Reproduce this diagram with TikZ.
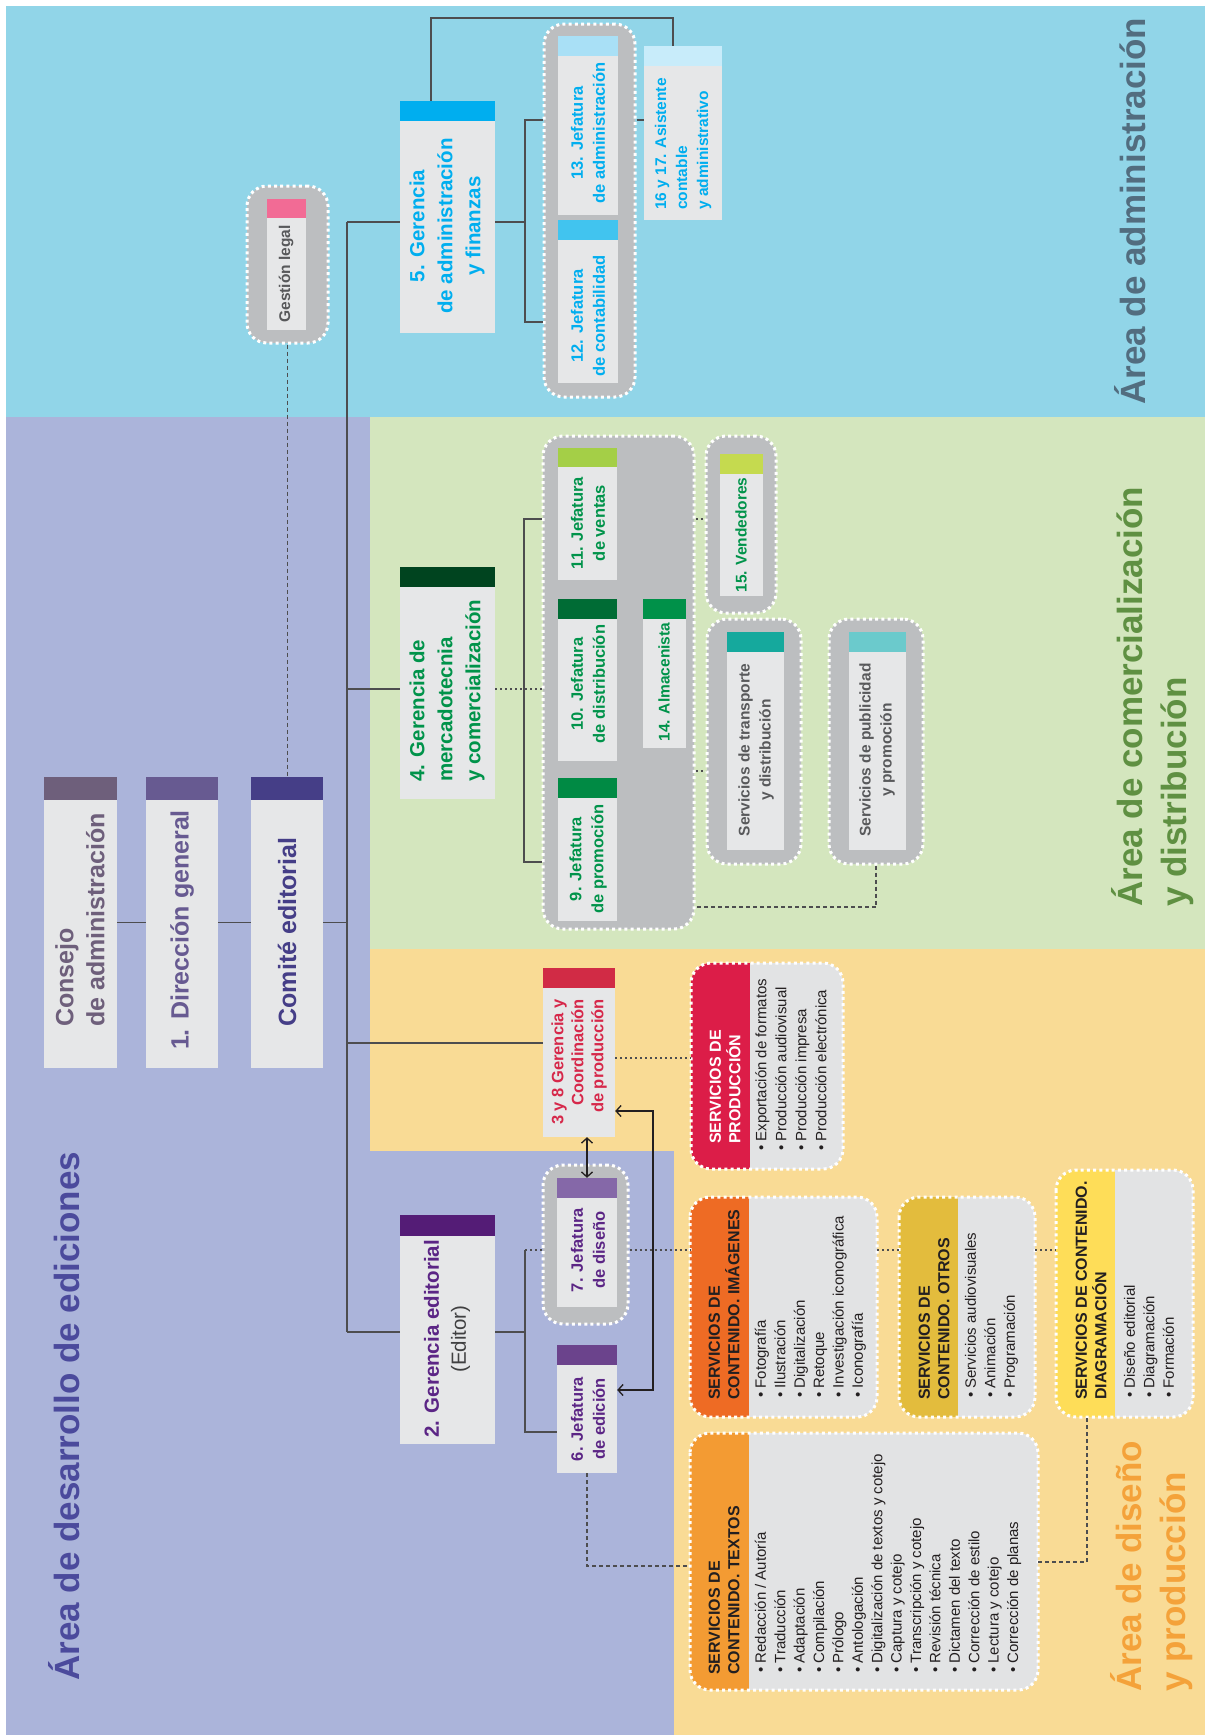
\documentclass[tikz,border=0pt]{standalone}
\usepackage{fontspec}
\setmainfont{Liberation Sans}
\usetikzlibrary{fit,arrows.meta}

% area backgrounds
\definecolor{bgblue}{HTML}{91D5E8}
\definecolor{bgpurple}{HTML}{ABB4DA}
\definecolor{bggreen}{HTML}{D4E6BE}
\definecolor{bgyellow}{HTML}{F9DB95}
% boxes and lines
\definecolor{boxbody}{HTML}{E6E7E8}
\definecolor{groupgray}{HTML}{BCBEC0}
\definecolor{itemgray}{HTML}{E2E3E4}
\definecolor{linegray}{HTML}{4D4D4F}
\definecolor{arrowdark}{HTML}{231F20}
\definecolor{textgray}{HTML}{58595B}
\definecolor{textdark}{HTML}{231F20}
\definecolor{editorgray}{HTML}{404041}
% unit colours
\definecolor{consejo}{HTML}{6E5F7B}
\definecolor{direccion}{HTML}{675A91}
\definecolor{comite}{HTML}{453E87}
\definecolor{cyan}{HTML}{00AEEF}
\definecolor{cyanA}{HTML}{A9E0F6}
\definecolor{cyanB}{HTML}{41C4EF}
\definecolor{cyanC}{HTML}{C8ECFA}
\definecolor{pink}{HTML}{F26B95}
\definecolor{darkgreen}{HTML}{00441F}
\definecolor{greenA}{HTML}{006C35}
\definecolor{greenB}{HTML}{008A44}
\definecolor{greenC}{HTML}{009149}
\definecolor{greenD}{HTML}{A4CF47}
\definecolor{lime}{HTML}{C5DA4F}
\definecolor{teal}{HTML}{15A99D}
\definecolor{tealB}{HTML}{6BCACC}
\definecolor{greentext}{HTML}{00934A}
\definecolor{redhead}{HTML}{D12B45}
\definecolor{redtext}{HTML}{D6284A}
\definecolor{prodred}{HTML}{DC1D48}
\definecolor{purplehead}{HTML}{541C76}
\definecolor{purpletext}{HTML}{5B2585}
\definecolor{purpleA}{HTML}{8568A8}
\definecolor{purpleB}{HTML}{6B438C}
\definecolor{imgorange}{HTML}{EE6B24}
\definecolor{mustard}{HTML}{E3BC3D}
\definecolor{diagyellow}{HTML}{FEDD58}
\definecolor{txtorange}{HTML}{F39B33}
\definecolor{admtitle}{HTML}{526D7F}
\definecolor{comtitle}{HTML}{5F9042}
\definecolor{distitle}{HTML}{F4A23A}
\definecolor{edititle}{HTML}{4B4A9C}

% plain unit box with a coloured header strip
\newcommand\orgbox[7]{%
  \node[orgbody, fit={(#2,#3) (#4,#5)}] (#1) {};
  \fill[#6] (#1.north west) rectangle ([yshift=-#7pt]#1.north east);}
% grey rounded group with white dotted border
\newcommand\grpbox[5]{%
  \node[grpbody, fit={(#2,#3) (#4,#5)}] (#1) {};}
% service card: coloured title column and grey item column
\newcommand\svcbox[7]{%
  \node[inner sep=0pt, fit={(#2,#3) (#4,#5)}] (#1) {};
  \begin{scope}
    \clip[rounded corners=20pt] (#2,#3) rectangle (#4,#5);
    \fill[itemgray] (#2,#3) rectangle (#4,#5);
    \fill[#6] (#2,#3) rectangle (#7,#5);
  \end{scope}
  \draw[dotborder, rounded corners=20pt] (#2,#3) rectangle (#4,#5);}

\begin{document}
\begin{tikzpicture}[x=1pt,y=-1pt,
  orgbody/.style={inner sep=0pt, fill=boxbody},
  dotborder/.style={draw=white, line width=3pt, dash pattern=on 3pt off 3.2pt},
  grpbody/.style={inner sep=0pt, fill=groupgray, rounded corners=20pt, dotborder},
  conn/.style={draw=linegray, line width=1.3pt},
  dotline/.style={draw=linegray, line width=1.3pt, dash pattern=on 2pt off 3pt},
  dashline/.style={draw=linegray, line width=1.1pt, dash pattern=on 4pt off 3pt},
  arrowline/.style={draw=arrowdark, line width=1.3pt,
    arrows={Straight Barb[length=5pt,width=11pt]-Straight Barb[length=5pt,width=11pt]}},
  lbl/.style={rotate=90, inner sep=0pt},
  topfont/.style={font=\fontsize{25}{31}\selectfont\bfseries},
  gerfont/.style={font=\fontsize{20.5}{28}\selectfont\bfseries},
  jefont/.style={font=\fontsize{16.5}{22}\selectfont\bfseries},
  smallfont/.style={font=\fontsize{15.5}{21}\selectfont\bfseries},
  svctitle/.style={font=\fontsize{16}{19.5}\selectfont\bfseries, align=left, anchor=west},
  svcitems/.style={font=\fontsize{15}{19.4}\selectfont, text=textdark, align=left, anchor=west},
  areafont/.style={font=\fontsize{35}{44}\selectfont\bfseries, align=left, anchor=west}]

\useasboundingbox (0,0) rectangle (1205,1735);
\fill[white] (0,0) rectangle (1205,1735);

% ---- area backgrounds ----
\fill[bgblue] (6,6) rectangle (1205,417);
\fill[bgpurple] (6,417) rectangle (370,1151);
\fill[bgpurple] (6,1151) rectangle (674,1735);
\fill[bggreen] (370,417) rectangle (1205,949);
\fill[bgyellow] (370,949) rectangle (1205,1151);
\fill[bgyellow] (674,1151) rectangle (1205,1735);

% ---- area titles ----
\node[lbl, areafont, text=admtitle] (tadm) at (1130,405) {Área de administración};
\node[lbl, areafont, text=comtitle] (tcom) at (1153,907) {Área de comercialización\\y distribución};
\node[lbl, areafont, text=distitle] (tdis) at (1152,1692) {Área de diseño\\y producción};
\node[lbl, areafont, text=edititle] (tedi) at (64,1681) {Área de desarrollo de ediciones};

% ---- top level ----
\orgbox{consejo}{44}{777}{117}{1068}{consejo}{23}
\orgbox{direccion}{146}{777}{218}{1068}{direccion}{23}
\orgbox{comite}{251}{777}{323}{1068}{comite}{23}
\node[lbl, topfont, text=consejo, align=left] (tconsejo) at (80,920) {Consejo\\de administración};
\node[lbl, topfont, text=direccion] (tdireccion) at (182,930) {1. Dirección general};
\node[lbl, topfont, text=comite] (tcomite) at (287,932) {Comité editorial};

% ---- administration ----
\grpbox{grpgl}{247}{186}{328}{343}
\orgbox{gl}{267}{199}{306}{330}{pink}{19}
\node[lbl, smallfont, text=textgray] (tgl) at (286,274) {Gestión legal};

\orgbox{g5}{400}{101}{495}{333}{cyan}{20}
\node[lbl, gerfont, text=cyan, align=center] (tg5) at (447,226) {5. Gerencia\\de administración\\y finanzas};

\coordinate (bk5t) at (525,120);
\coordinate (bk5b) at (525,322);
\coordinate (k1) at (431,18);
\coordinate (k2) at (673,18);

\grpbox{grp1213}{544}{24}{635}{397}
\orgbox{j13}{558}{36}{618}{215}{cyanA}{20}
\orgbox{j12}{558}{220}{618}{383}{cyanB}{20}
\node[lbl, jefont, text=cyan, align=center] (tj13) at (588,133) {13. Jefatura\\de administración};
\node[lbl, jefont, text=cyan, align=center] (tj12) at (588,316) {12. Jefatura\\de contabilidad};

\orgbox{a1617}{644}{46}{722}{220}{cyanC}{20}
\node[lbl, smallfont, text=cyan, align=left, anchor=west] (ta1617) at (683,210) {16 y 17. Asistente\\contable\\y administrativo};

% ---- commercialisation ----
\orgbox{g4}{400}{567}{495}{799}{darkgreen}{20}
\node[lbl, gerfont, text=greentext, align=left, anchor=west] (tg4) at (447,782) {4. Gerencia de\\mercadotecnia\\y comercialización};

\coordinate (bk4t) at (524,519);
\coordinate (bk4b) at (524,862);

\grpbox{grpcom}{543}{436}{694}{929}
\orgbox{j11}{558}{448}{617}{580}{greenD}{19}
\orgbox{j10}{558}{599}{617}{761}{greenA}{20}
\orgbox{j9}{558}{778}{617}{921}{greenB}{20}
\orgbox{a14}{643}{599}{686}{748}{greenC}{20}
\node[lbl, jefont, text=greentext, align=center] (tj11) at (588,523) {11. Jefatura\\de ventas};
\node[lbl, jefont, text=greentext, align=center] (tj10) at (588,684) {10. Jefatura\\de distribución};
\node[lbl, jefont, text=greentext, align=center] (tj9) at (588,859) {9. Jefatura\\de promoción};
\node[lbl, smallfont, text=greentext] (ta14) at (664,682) {14. Almacenista};

\grpbox{grp15}{706}{436}{776}{613}
\orgbox{v15}{720}{454}{763}{596}{lime}{20}
\node[lbl, smallfont, text=greentext] (tv15) at (741,535) {15. Vendedores};

\grpbox{grptr}{707}{619}{801}{864}
\orgbox{str}{727}{632}{784}{850}{teal}{20}
\node[lbl, smallfont, text=textgray, align=center] (tstr) at (756,750) {Servicios de transporte\\y distribución};

\grpbox{grppub}{829}{619}{923}{864}
\orgbox{spub}{849}{632}{906}{850}{tealB}{20}
\node[lbl, smallfont, text=textgray, align=center] (tspub) at (877,750) {Servicios de publicidad\\y promoción};

% ---- production ----
\orgbox{g38}{543}{968}{615}{1137}{redhead}{20}
\node[lbl, font=\fontsize{16.5}{20}\selectfont\bfseries, text=redtext, align=right, anchor=east] (tg38) at (579,999) {3 y 8 Gerencia y\\Coordinación\\de producción};

\svcbox{sprod}{691}{963}{843}{1169}{prodred}{750}
\node[lbl, svctitle, text=white] (tsprod) at (725,1144) {SERVICIOS DE\\PRODUCCIÓN};
\node[lbl, svcitems, font=\fontsize{15}{20}\selectfont] (isprod) at (791,1151) {• Exportación de formatos\\• Producción audiovisual\\• Producción impresa\\• Producción electrónica};

% ---- editorial development ----
\orgbox{g2}{400}{1215}{495}{1444}{purplehead}{21}
\node[lbl, font=\fontsize{20.5}{27}\selectfont, text=editorgray, align=center] (tg2) at (447,1339) {{\bfseries\color{purpletext}2. Gerencia editorial}\\(Editor)};

\coordinate (bk2t) at (525,1250);
\coordinate (bk2b) at (525,1432);

\grpbox{grp7}{543}{1165}{628}{1324}
\orgbox{j7}{557}{1178}{617}{1307}{purpleA}{20}
\orgbox{j6}{557}{1345}{617}{1473}{purpleB}{20}
\node[lbl, jefont, text=purpletext, align=center] (tj7) at (588,1250) {7. Jefatura\\de diseño};
\node[lbl, jefont, text=purpletext, align=center] (tj6) at (588,1419) {6. Jefatura\\de edición};

% ---- content services ----
\svcbox{simg}{690}{1197}{877}{1417}{imgorange}{749}
\node[lbl, svctitle, text=textdark] (tsimg) at (724,1400) {SERVICIOS DE\\CONTENIDO. IMÁGENES};
\node[lbl, svcitems] (isimg) at (810.5,1398) {• Fotografía\\• Ilustración\\• Digitalización\\• Retoque\\• Investigación iconográfica\\• Iconografía};

\svcbox{sotr}{899}{1197}{1035}{1417}{mustard}{958}
\node[lbl, svctitle, text=textdark] (tsotr) at (934,1400) {SERVICIOS DE\\CONTENIDO. OTROS};
\node[lbl, svcitems] (isotr) at (991.5,1398) {• Servicios audiovisuales\\• Animación\\• Programación};

\svcbox{sdiag}{1056}{1170}{1193}{1417}{diagyellow}{1115}
\node[lbl, svctitle, text=textdark] (tsdiag) at (1091,1400) {SERVICIOS DE CONTENIDO.\\DIAGRAMACIÓN};
\node[lbl, svcitems] (isdiag) at (1149,1398) {• Diseño editorial\\• Diagramación\\• Formación};

\svcbox{stxt}{690}{1433}{1038}{1690}{txtorange}{749}
\node[lbl, svctitle, text=textdark] (tstxt) at (724,1675) {SERVICIOS DE\\CONTENIDO. TEXTOS};
\node[lbl, svcitems] (istxt) at (888,1673) {• Redacción / Autoría\\• Traducción\\• Adaptación\\• Compilación\\• Prólogo\\• Antologación\\• Digitalización de textos y cotejo\\• Captura y cotejo\\• Transcripción y cotejo\\• Revisión técnica\\• Dictamen del texto\\• Corrección de estilo\\• Lectura y cotejo\\• Corrección de planas};

% ---- connectors ----
\coordinate (t5) at (347,222);
\coordinate (t4) at (347,689);
\coordinate (t38) at (347,1043);
\coordinate (t2) at (347,1332);

\draw[conn] (consejo.east) -- (direccion.west);
\draw[conn] (direccion.east) -- (comite.west);
\draw[conn] (comite.east) -- (comite.east -| t5);
\draw[conn] (t5) -- (t2);
\draw[conn] (t5) -- (t5 -| g5.west);
\draw[conn] (t4) -- (t4 -| g4.west);
\draw[conn] (t38) -- (t38 -| g38.west);
\draw[conn] (t2) -- (t2 -| g2.west);
\draw[dashline] (grpgl.south) -- (grpgl.south |- comite.north);

% administration
\draw[conn] (g5.east |- t5) -- (t5 -| bk5t);
\draw[conn] (bk5t -| grp1213.west) -- (bk5t) -- (bk5b) -- (bk5b -| grp1213.west);
\draw[conn] (bk5t -| grp1213.east) -- (bk5t -| a1617.west);
\draw[conn] (k1 |- g5.north) -- (k1) -- (k2) -- (k2 |- a1617.north);

% commercialisation
\draw[dotline] (g4.east |- t4) -- (t4 -| grpcom.west);
\draw[conn] (bk4t -| grpcom.west) -- (bk4t) -- (bk4b) -- (bk4b -| grpcom.west);
\coordinate (c15) at (700,519);
\coordinate (ctr) at (700,771);
\draw[dotline] (c15 -| grpcom.east) -- (c15 -| grp15.west);
\draw[dotline] (ctr -| grpcom.east) -- (ctr -| grptr.west);
\coordinate (d3) at (877,907);
\draw[dashline] (grppub.south) -- (grppub.south |- d3) -- (d3 -| grpcom.east);

% production and editorial
\coordinate (p1) at (650,1058);
\draw[dotline] (p1 -| g38.east) -- (p1 -| sprod.west);
\coordinate (r1) at (653,1111);
\coordinate (r2) at (653,1390);
\draw[arrowline] (r1 -| g38.east) -- (r1) -- (r2) -- (r2 -| j6.east);
\draw[arrowline] (j7.north |- g38.south) -- (j7.north);

\draw[conn] (g2.east |- t2) -- (t2 -| bk2t);
\draw[conn] (bk2t) -- (bk2b) -- (bk2b -| j6.west);
\draw[dotline] (bk2t) -- (bk2t -| grp7.west);
\draw[dotline] (bk2t -| grp7.east) -- (bk2t -| simg.west);
\draw[dotline] (bk2t -| simg.east) -- (bk2t -| sotr.west);
\draw[dotline] (bk2t -| sotr.east) -- (bk2t -| sdiag.west);

\coordinate (d1) at (588,1566);
\draw[dashline] (j6.south) -- (j6.south |- d1) -- (d1 -| stxt.west);
\coordinate (d2) at (1087,1562);
\draw[dashline] (d2 -| stxt.east) -- (d2) -- (d2 |- sdiag.south);

\end{tikzpicture}
\end{document}
